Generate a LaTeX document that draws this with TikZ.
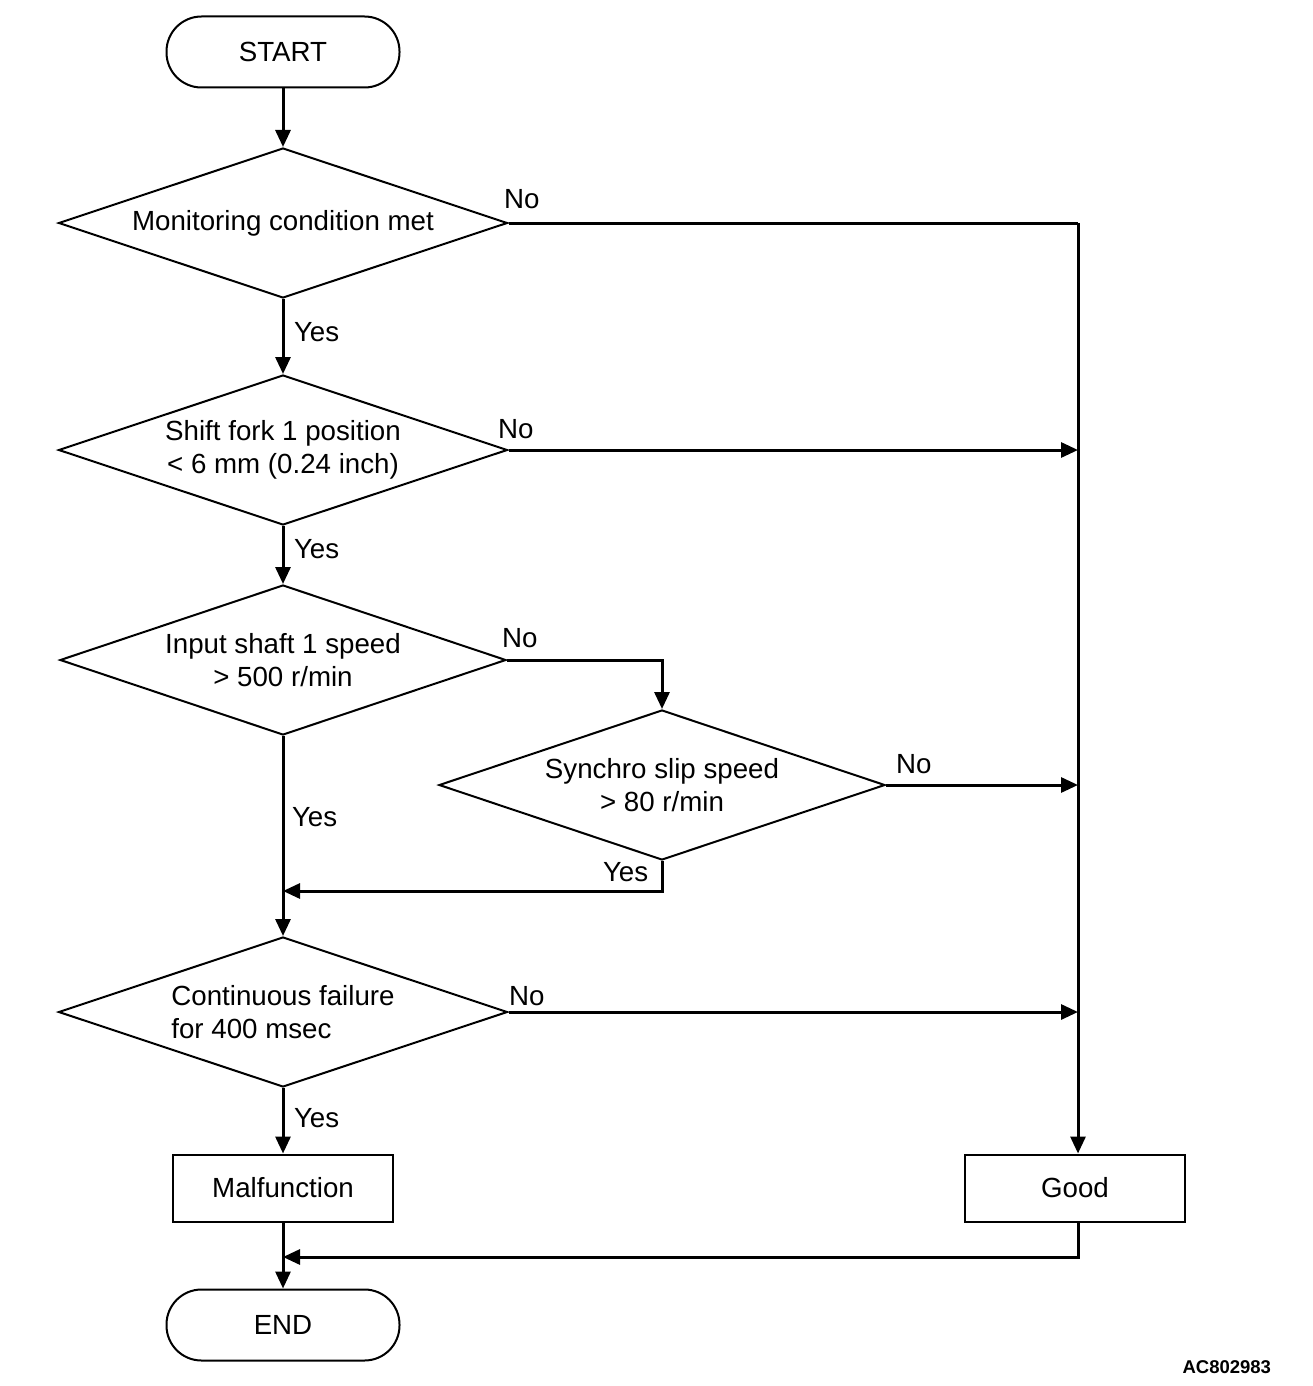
\documentclass[tikz,border=0pt]{standalone}
\usepackage{fontspec}
\setmainfont{Liberation Sans}
\usetikzlibrary{shapes.geometric,arrows.meta}

\begin{document}
\begin{tikzpicture}[x=1pt, y=-1pt, line width=2pt,
    font=\fontsize{27.7}{33}\selectfont,
    term/.style={draw, rectangle, rounded corners=35pt, minimum width=233pt, minimum height=71pt},
    dec/.style={draw, diamond, aspect=3, inner sep=0pt, minimum width=449pt, minimum height=150pt, align=center},
    box/.style={draw, rectangle, minimum width=220pt, minimum height=67pt},
    flow/.style={line width=3pt, -{Triangle[length=17pt,width=15pt]}},
    link/.style={line width=3pt},
    lab/.style={anchor=base west, inner sep=0pt}]
            \useasboundingbox (0,0) rectangle (1312,1386);

            \node[term] (start) at (283,52) {START};
            \node[dec] (d1) at (283,223) {Monitoring condition met};
            \node[dec] (d2) at (283,450) {Shift fork 1 position\\< 6 mm (0.24 inch)};
            \node[dec, minimum width=446pt] (d3) at (283,660) {Input shaft 1 speed\\> 500 r/min};
            \node[dec, minimum width=446pt] (d4) at (662,785) {Synchro slip speed\\> 80 r/min};
            \node[dec, align=left] (d5) at (283,1012) {Continuous failure\\for 400 msec};
            \node[box] (mal) at (283,1188) {Malfunction};
            \node[box] (good) at (1075,1188) {Good};
            \node[term] (end) at (283,1325) {END};

            \coordinate (rt) at (1078,223);
            \coordinate (j1) at (283,891);
            \coordinate (j2) at (283,1257);

            \draw[flow] (start) -- (d1);
            \draw[flow] (d1) -- (d2);
            \draw[flow] (d2) -- (d3);
            \draw[flow] (d3) -- (d5);
            \draw[flow] (d5) -- (mal);
            \draw[flow] (mal) -- (end);

            \draw[link] (d1.east) -- (rt);
            \draw[flow] (rt) -- (rt |- good.north);
            \draw[flow] (d2.east) -- (d2.east -| rt);
            \draw[flow] (d3.east) -| (d4.north);
            \draw[flow] (d4.east) -- (d4.east -| rt);
            \draw[flow] (d4.south) |- (j1);
            \draw[flow] (d5.east) -- (d5.east -| rt);
            \draw[flow] (rt |- good.south) |- (j2);

            \node[lab] (no1) at (503,208) {No};
            \node[lab] (yes1) at (293,341) {Yes};
            \node[lab] (no2) at (497,438) {No};
            \node[lab] (yes2) at (293,558) {Yes};
            \node[lab] (no3) at (501,647) {No};
            \node[lab] (no4) at (895,773) {No};
            \node[lab] (yes3) at (291,826) {Yes};
            \node[lab] (yes4) at (602,881) {Yes};
            \node[lab] (no5) at (508,1005) {No};
            \node[lab] (yes5) at (293,1127) {Yes};

            \node[anchor=base east, inner sep=0pt, font=\fontsize{18.5}{22}\selectfont\bfseries] (code) at (1272,1373) {AC802983};
        \end{tikzpicture}
\end{document}
